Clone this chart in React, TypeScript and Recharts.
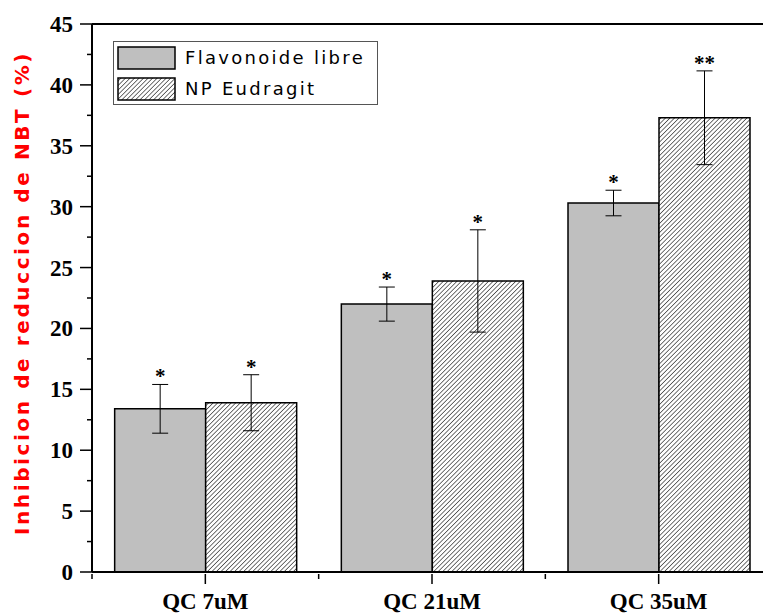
import React from 'react'
import { BarChart, Bar, XAxis, YAxis, ErrorBar, LabelList, ReferenceLine } from 'recharts'

const categories = ['QC 7uM', 'QC 21uM', 'QC 35uM']
const libre = [13.4, 22.0, 30.3]
const libreErr = [2.0, 1.4, 1.05]
const libreSig = ['*', '*', '*']
const eudragit = [13.9, 23.9, 37.3]
const eudragitErr = [2.3, 4.2, 3.85]
const eudragitSig = ['*', '*', '**']
const yTicks = [0, 2.5, 5, 7.5, 10, 12.5, 15, 17.5, 20, 22.5, 25, 27.5, 30, 32.5, 35, 37.5, 40, 42.5, 45]

const data = categories.map((name, i) => ({
  name,
  libre: libre[i],
  libreErr: libreErr[i],
  eudragit: eudragit[i],
  eudragitErr: eudragitErr[i],
}))

const W = 780
const H = 613
const M = { top: 24, right: 8, left: 0, bottom: 0 }
const Y_W = 92
const band = (W - M.left - M.right - Y_W) / categories.length

const serif = '"Liberation Serif", "Times New Roman", serif'
const sans = '"DejaVu Sans", Verdana, sans-serif'

function YTick({ x, y, payload }: any) {
  const major = payload.value % 5 === 0
  return (
    <g>
      <line x1={x - (major ? 12 : 5)} x2={x} y1={y} y2={y} stroke="#000" strokeWidth={1.5} />
      {major && (
        <text x={x - 19} y={y} dy="0.35em" textAnchor="end" fontFamily={serif} fontWeight="bold" fontSize={23} fill="#000">
          {payload.value}
        </text>
      )}
    </g>
  )
}

function XTick({ x, y, payload, index }: any) {
  return (
    <g>
      <line x1={x} x2={x} y1={y} y2={y + 10} stroke="#000" strokeWidth={1.5} />
      <line x1={x + band / 2} x2={x + band / 2} y1={y} y2={y + 5} stroke="#000" strokeWidth={1.5} />
      {index === 0 && <line x1={x - band / 2} x2={x - band / 2} y1={y} y2={y + 5} stroke="#000" strokeWidth={1.5} />}
      <text x={x} y={y + 35} textAnchor="middle" fontFamily={serif} fontWeight="bold" fontSize={23} fill="#000">
        {payload.value}
      </text>
    </g>
  )
}

const starLabel = (errs: number[], sig: string[]) => (p: any) => {
  const { x, y, width, height, value, index } = p
  const errPx = value ? (errs[index] * height) / value : 0
  return (
    <text x={x + width / 2} y={y - errPx - 1} textAnchor="middle" fontFamily={serif} fontWeight="bold" fontSize={21} fill="#000">
      {sig[index]}
    </text>
  )
}

function Hatch({ id }: { id: string }) {
  return (
    <pattern id={id} patternUnits="userSpaceOnUse" width={3.2} height={3.2} patternTransform="rotate(45)">
      <rect width={3.2} height={3.2} fill="#fff" />
      <line x1={0} y1={0} x2={0} y2={3.2} stroke="#000" strokeWidth={1.1} />
    </pattern>
  )
}

function LegendBox() {
  const row = (hatched: boolean, label: string) => (
    <div style={{ display: 'flex', alignItems: 'center', height: 31 }}>
      <svg width={60} height={24} style={{ marginLeft: 3 }}>
        <defs>
          <Hatch id="hatchLegend" />
        </defs>
        <rect x={1} y={1} width={57} height={22} fill={hatched ? 'url(#hatchLegend)' : '#bfbfbf'} stroke="#000" strokeWidth={1.5} />
      </svg>
      <span style={{ marginLeft: 8, fontFamily: sans, fontSize: 18, letterSpacing: 2.3, color: '#000' }}>{label}</span>
    </div>
  )
  return (
    <div
      style={{
        position: 'absolute',
        left: 113,
        top: 41,
        width: 265,
        height: 64,
        border: '1px solid #555',
        boxSizing: 'border-box',
        background: '#fff',
      }}
    >
      {row(false, 'Flavonoide libre')}
      {row(true, 'NP Eudragit')}
    </div>
  )
}

export default function App() {
  return (
    <div style={{ position: 'absolute', left: 0, top: 0, width: 763, height: 613, overflow: 'hidden', background: '#fff' }}>
      <BarChart width={W} height={H} data={data} margin={M} barCategoryGap="10%" barGap={0}>
        <defs>
          <Hatch id="hatchBar" />
        </defs>
        <XAxis dataKey="name" height={41} interval={0} tickSize={0} tickLine={false} axisLine={{ stroke: '#000', strokeWidth: 2 }} tick={<XTick />} />
        <YAxis
          domain={[0, 45]}
          ticks={yTicks}
          width={Y_W}
          interval={0}
          tickSize={0}
          tickMargin={0}
          tickLine={false}
          axisLine={{ stroke: '#000', strokeWidth: 2 }}
          tick={<YTick />}
          label={(p: any) => {
            const vb = p.viewBox
            const cy = vb.y + vb.height / 2 - 5
            return (
              <text x={22} y={cy} transform={`rotate(-90 22 ${cy})`} textAnchor="middle" dy="0.35em" fontFamily={sans} fontWeight="bold" fontSize={20} letterSpacing={2.6} fill="#ff0000">
                Inhibicion de reduccion de NBT (%)
              </text>
            )
          }}
        />
        <ReferenceLine y={45} stroke="#000" strokeWidth={2} ifOverflow="extendDomain" />
        <Bar dataKey="libre" name="Flavonoide libre" fill="#bfbfbf" stroke="#000" strokeWidth={1.5} isAnimationActive={false}>
          <ErrorBar dataKey="libreErr" width={8} stroke="#000" strokeWidth={1} />
          <LabelList dataKey="libre" content={starLabel(libreErr, libreSig)} />
        </Bar>
        <Bar dataKey="eudragit" name="NP Eudragit" fill="url(#hatchBar)" stroke="#000" strokeWidth={1.5} isAnimationActive={false}>
          <ErrorBar dataKey="eudragitErr" width={8} stroke="#000" strokeWidth={1} />
          <LabelList dataKey="eudragit" content={starLabel(eudragitErr, eudragitSig)} />
        </Bar>
      </BarChart>
      <LegendBox />
    </div>
  )
}
